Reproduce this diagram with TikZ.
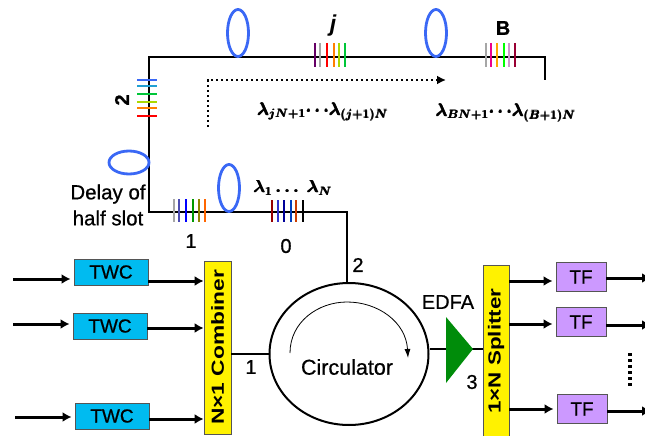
\documentclass[tikz,border=0pt]{standalone}
\usepackage{amsmath,amsfonts,graphicx}
\usepackage{fontspec}
\setmainfont{Liberation Sans}
\newfontfamily\midfont[FakeBold=0.7]{Liberation Sans}
\usepackage{tikz}
\usetikzlibrary{arrows.meta,positioning,shapes.geometric}

\definecolor{twccyan}{HTML}{00BBF0}
\definecolor{tfviolet}{HTML}{CC99FF}
\definecolor{ringblue}{HTML}{3A68F5}
\definecolor{edfagreen}{HTML}{008C0A}
\definecolor{frameblack}{HTML}{555555}

\tikzset{
  fiber/.style={line width=2pt},
  sig/.style={line width=3pt,-{Latex[length=9pt,width=10pt]},shorten >=3pt},
  twcbox/.style={draw=frameblack,fill=twccyan,line width=0.9pt,minimum width=74pt,minimum height=26pt,inner sep=0pt,font=\midfont\fontsize{19}{20}\selectfont},
  tfbox/.style={draw=frameblack,fill=tfviolet,line width=0.9pt,minimum width=50pt,minimum height=29pt,inner sep=0pt,font=\midfont\fontsize{19}{20}\selectfont},
  barbox/.style={draw=frameblack,fill=yellow,line width=0.7pt,inner sep=0pt,font=\bfseries\fontsize{17.5}{20}\selectfont},
  ring/.style={ellipse,draw=ringblue,line width=2.8pt,inner sep=0pt},
  lab/.style={inner sep=0pt,font=\midfont\fontsize{20}{20}\selectfont},
  lam/.style={inner sep=0pt,font=\fontsize{17.28}{20}\selectfont},
  tick/.style={line width=1.7pt},
}

\begin{document}
\begin{tikzpicture}[x=1pt,y=-1pt]
   \useasboundingbox (0,0) rectangle (645,436);

   % fibre delay line
   \coordinate (end_bus) at (545,80);
   \coordinate (corner_r) at (545,57);
   \coordinate (corner_t) at (149,57);
   \coordinate (corner_b) at (149,212);
   \coordinate (corner_m) at (347,212);

   \node[draw,ellipse,line width=2pt,minimum width=159pt,minimum height=142pt,inner sep=0pt] (circ) at (349,354) {};
   \draw[fiber] (circ.north -| corner_m) -- (corner_m) -- (corner_b) -- (corner_t) -- (corner_r) -- (end_bus);

   \node[ring,minimum width=21pt,minimum height=47pt] (loop_1) at (238,33) {};
   \node[ring,minimum width=21pt,minimum height=47pt] (loop_2) at (436,33) {};
   \node[ring,minimum width=21pt,minimum height=47pt] (loop_3) at (229,188) {};
   \node[ring,minimum width=40pt,minimum height=23pt] (loop_4) at (129,162.5) {};

   % wavelength combs
   \foreach \x/\c in {315/violet!80!black,320/gray!70,327/red,334/orange,339/lime!70!olive,345/green!55!teal}
      \draw[tick,\c] (\x,43) -- (\x,67);
   \foreach \x/\c in {486/gray!70,491/magenta,497/orange!70!yellow,504/green,509/violet!40,515/purple!80!black}
      \draw[tick,\c] (\x,43) -- (\x,67);
   \foreach \y/\c in {80/ringblue,86/cyan!70!teal,94/green!55!teal,102/lime!70!olive,108/orange,116/red}
      \draw[tick,\c] (137,\y) -- (157,\y);
   \foreach \x/\c in {174/gray!70,179/blue!40!gray,186/blue,193/green!60!black,199/olive,205/orange!80!red}
      \draw[tick,\c] (\x,199) -- (\x,222);
   \foreach \x/\c in {272/red!60!black,278/blue!60!gray,284/blue!60!black,291/blue!50!teal,296/orange!60!red!80!black,303/black}
      \draw[tick,\c] (\x,200) -- (\x,222);

   % direction of the slots
   \coordinate (dot_s) at (208,127);
   \coordinate (dot_c) at (208,80);
   \coordinate (dot_e) at (446,80);
   \draw[line width=2.4pt,dash pattern=on 2.4pt off 2.6pt,-{Latex[length=9pt,width=9pt]}] (dot_s) -- (dot_c) -- (dot_e);

   \node[lab,font=\bfseries\itshape\fontsize{23}{24}\selectfont] (lab_j) at (333,26) {j};
   \node[lab] (lab_b) at (503,28) {\textbf{B}};
   \node[lab,rotate=90] (lab_two) at (122,100) {\textbf{2}};
   \node[lab] (lab_one) at (191,241) {1};
   \node[lab] (lab_zero) at (286,246) {0};
   \node[lab,align=center,font=\midfont\fontsize{20.5}{26}\selectfont] (lab_delay) at (108,205) {Delay of\\half slot};
   \node[lam] (lam_0) at (293,188) {$\pmb{\boldsymbol{\lambda_{1}\ldots\ \lambda_{N}}}$};
   \node[lam] (lam_j) at (323,112) {$\pmb{\boldsymbol{\lambda_{jN+1}\!\cdots\! \lambda_{(j+1)N}}}$};
   \node[lam] (lam_b) at (506,113) {$\pmb{\boldsymbol{\lambda_{BN+1}\!\cdots\! \lambda_{(B+1)N}}}$};

   % transmit side
   \node[twcbox] (twc_1) at (111,272) {TWC};
   \node[twcbox] (twc_2) [on grid,below=54pt of twc_1,xshift=-1pt] {TWC};
   \node[twcbox] (twc_3) [on grid,below=144pt of twc_1,xshift=1pt] {TWC};
   \node[barbox,minimum width=27pt,minimum height=173pt] (comb) at (217.5,347.5) {\rotatebox{90}{\scalebox{1.3}[1]{N×1 Combiner}}};

   \coordinate (in_1) at (13,279);
   \coordinate (in_2) at (13,324);
   \coordinate (in_3) at (15,417);

   \path[sig]
   (in_1) edge (in_1 -| twc_1.west)
   (in_2) edge (in_2 -| twc_2.west)
   (in_3) edge (in_3 -| twc_3.west)
   ([yshift=-9pt]twc_1.east) edge[shorten >=0pt] ([yshift=-9pt]twc_1.east -| comb.west)
   ([yshift=-2pt]twc_2.east) edge[shorten >=0pt] ([yshift=-2pt]twc_2.east -| comb.west)
   ([yshift=-3pt]twc_3.east) edge[shorten >=0pt] ([yshift=-3pt]twc_3.east -| comb.west);

   \draw[fiber] (comb.east |- circ.west) -- (circ.west);

   \node[lab] (lab_port1) at (251,367) {1};
   \node[lab] (lab_port2) at (358,265) {2};
   \node[lab] (lab_port3) at (472,382) {3};
   \node[lab,font=\midfont\fontsize{21.5}{22}\selectfont] (lab_circ) at (347,367) {Circulator};
   \draw[line width=0.8pt,-{Latex[length=9pt,width=6pt]}] (290,353) .. controls (290,322) and (318,302) .. (347,302) .. controls (378,302) and (406,322) .. (408,358);

   % receive side
   \node[barbox,minimum width=26pt,minimum height=172pt] (split) at (496,351) {\rotatebox{90}{\scalebox{1.28}[1]{1×N Splitter}}};
   \coordinate (edfa_tip) at (473,349);
   \draw[fiber] (circ.east |- edfa_tip) -- (split.west |- edfa_tip);
   \fill[edfagreen] (446,317) -- (edfa_tip) -- (446,383) -- cycle;
   \node[lab] (lab_edfa) at (448,302) {EDFA};

   \node[tfbox] (tf_1) at (581,277) {TF};
   \node[tfbox] (tf_2) [on grid,below=45pt of tf_1] {TF};
   \node[tfbox] (tf_3) [on grid,below=132pt of tf_1,xshift=1pt] {TF};

   \coordinate (out_1) at (651,278);
   \coordinate (out_2) at (651,325);
   \coordinate (out_3) at (651,411);

   \path[sig]
   ([yshift=-4pt]split.east |- tf_1) edge ([yshift=-4pt]tf_1.west)
   ([yshift=-2pt]split.east |- tf_2) edge ([yshift=-2pt]tf_2.west)
   (split.east |- tf_3) edge (tf_3.west)
   (tf_1.east |- out_1) edge[shorten >=0pt] (out_1)
   (tf_2.east |- out_2) edge[shorten >=0pt] (out_2)
   (tf_3.east |- out_3) edge[shorten >=0pt] (out_3);

   \coordinate (dots_s) at (630,353);
   \coordinate (dots_e) at (630,388);
   \draw[line width=4pt,dash pattern=on 3pt off 3pt] (dots_s) -- (dots_e);
\end{tikzpicture}
\end{document}
